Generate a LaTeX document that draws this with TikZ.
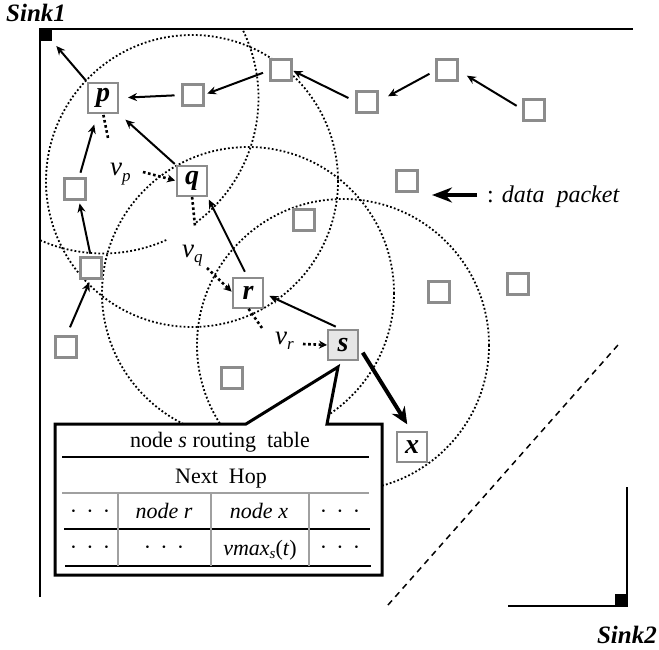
\documentclass[tikz,border=0pt]{standalone}
\usepackage{fontspec}
\setmainfont{Liberation Serif}
\usetikzlibrary{arrows.meta,calc}
\definecolor{boxgray}{HTML}{8C8C8C}
\definecolor{sfill}{HTML}{E6E6E6}
\definecolor{tgray}{HTML}{A0A0A0}
\newcommand\mydots{\textperiodcentered\hspace{0.42em}\textperiodcentered\hspace{0.42em}\textperiodcentered}
\newcommand\vlab[1]{\textit{v}\raisebox{-0.42ex}{\fontsize{17}{17}\selectfont\textit{#1}}}
\begin{document}
\begin{tikzpicture}[x=1pt,y=-1pt,
  pbox/.style={draw=boxgray,line width=2.2pt,fill=white,minimum size=21pt,inner sep=0pt,outer sep=0pt},
  lbox/.style={pbox,minimum size=30pt,font=\fontsize{28}{28}\selectfont\bfseries\itshape},
  arr/.style={line width=2pt,-{Stealth[length=9pt,width=8pt]}},
  bigarr/.style={line width=4pt,-{Stealth[length=17pt,width=15pt]}},
  legarr/.style={line width=4.5pt,-{Stealth[length=20pt,width=15pt]}},
  vdot/.style={line width=2.6pt,dash pattern=on 2.6pt off 2.6pt},
  vdotarr/.style={vdot,-{Stealth[length=8pt,width=8pt]}},
  ring/.style={line width=1.8pt,dash pattern=on 1.8pt off 2.2pt},
  border/.style={line width=2.6pt},
  tline/.style={line width=2.2pt},
  gline/.style={line width=1.2pt,draw=tgray},
  ttext/.style={font=\fontsize{22}{26}\selectfont,anchor=base,inner sep=0pt},
  vtext/.style={font=\fontsize{27}{30}\selectfont,anchor=base west,inner sep=0pt},
  sinklab/.style={font=\fontsize{25}{27}\selectfont\bfseries\itshape,inner sep=0pt},
]
\useasboundingbox (0,0) rectangle (659,650);

% centres of the labelled nodes
\coordinate (Pc) at (103,98);
\coordinate (Qc) at (192,181);
\coordinate (Rc) at (248,293);
\coordinate (Sc) at (343,345);

% transmission ranges
\begin{scope}
  \clip (40,29) rectangle (659,650);
  \draw[ring] (Pc) ++(-30:155.5) arc[start angle=-30,end angle=54,radius=155.5];
  \draw[ring] (Pc) ++(66:155.5) arc[start angle=66,end angle=120,radius=155.5];
  \draw[ring] (Qc) circle[radius=146];
  \draw[ring] (Rc) circle[radius=146];
  \draw[ring] (Sc) circle[radius=146];
\end{scope}

% dashed diagonal
\coordinate (d1) at (388,605);
\coordinate (d2) at (618,345);
\draw[line width=1.5pt,dash pattern=on 6pt off 5pt] (d1) -- (d2);

% field border and sinks
\coordinate (fbl) at (40,597);
\coordinate (ftl) at (40,29);
\coordinate (ftr) at (633,29);
\draw[border] (fbl) -- (ftl) -- (ftr);
\node[fill=black,minimum size=12pt,inner sep=0pt,anchor=north west] (sinkA) at (ftl) {};
\node[sinklab,anchor=base west] (sink1) at (6,22) {Sink1};

\coordinate (s2top) at (627,487);
\coordinate (s2c) at (627,606);
\coordinate (s2left) at (508,606);
\draw[border] (s2top) -- (s2c) -- (s2left);
\node[fill=black,minimum size=12pt,inner sep=0pt,anchor=south east] (sinkB) at (s2c) {};
\node[sinklab,anchor=base east] (sink2) at (657,643) {Sink2};

% routing table callout
\coordinate (tip) at ($(Sc)+(-5,22)$);
\draw[line width=3pt,fill=white,line join=miter] (55,424) -- (246,424) -- (tip) -- (327,424) -- (382,424) -- (382,575) -- (55,575) -- cycle;
\draw[tline] (62,457) -- (369,457);
\draw[gline] (62,493) -- (369,493);
\draw[tline] (64,529) -- (370,529);
\draw[tline] (65,566) -- (371,566);
\draw[gline] (118,493) -- (118,566);
\draw[gline] (211,493) -- (211,566);
\draw[gline] (309,493) -- (309,566);
\node[ttext] (ttitle) at (220,447) {node \textit{s} routing\ \ table};
\node[ttext] (thop) at (221,483) {Next\ \ Hop};
\node[ttext] (c11) at (90,518) {\mydots};
\node[ttext] (c12) at (164,518) {\textit{node r}};
\node[ttext] (c13) at (259,518) {\textit{node x}};
\node[ttext] (c14) at (340,518) {\mydots};
\node[ttext] (c21) at (90,554) {\mydots};
\node[ttext] (c22) at (164,554) {\mydots};
\node[ttext] (c23) at (260,555) {\textit{vmax}\raisebox{-0.35ex}{\fontsize{15}{15}\selectfont\textit{s}}(\textit{t})};
\node[ttext] (c24) at (340,554) {\mydots};

% sensor nodes
\node[pbox] (n1) at (281,70) {};
\node[pbox] (n2) at (193,95) {};
\node[pbox] (n3) at (75,189) {};
\node[pbox] (n4) at (304,220) {};
\node[pbox] (n5) at (447,70) {};
\node[pbox] (n6) at (367,102) {};
\node[pbox] (n7) at (534,110) {};
\node[pbox] (n8) at (407,181) {};
\node[pbox] (n9) at (91,268) {};
\node[pbox] (n10) at (66,347) {};
\node[pbox] (n11) at (232,378) {};
\node[pbox] (n12) at (439,292) {};
\node[pbox] (n13) at (518,284) {};
\node[lbox] (p) at (Pc) {p};
\node[lbox] (q) at (Qc) {q};
\node[lbox] (r) at (Rc) {r};
\node[lbox,fill=sfill] (s) at (Sc) {s};
\node[lbox] (x) at (412,447) {x};

% forwarding arrows
\draw[arr,shorten <=3pt,shorten >=6pt] (p.north west) -- (sinkA.south east);
\draw[arr,shorten <=8pt,shorten >=10pt] (n2.west) -- (p.east);
\draw[arr,shorten <=8pt,shorten >=4pt] (n1.west) -- (n2.east);
\draw[arr,shorten <=9pt,shorten >=2pt] (n6.west) -- (n1.east);
\draw[arr,shorten <=8pt,shorten >=12pt] (n5.west) -- (n6.east);
\draw[arr,shorten <=8pt,shorten >=11pt] (n7.west) -- (n5.east);
\draw[arr,shorten <=6pt,shorten >=12pt] (n3.70) -- (p.-110);
\draw[arr,shorten <=4pt,shorten >=4pt] (n9.north) -- (n3.-70);
\draw[arr,shorten <=10pt,shorten >=4pt] (n10.north) -- (n9.south);
\draw[arr,shorten <=3pt,shorten >=10pt] (q.north west) -- (p.south east);
\draw[arr,shorten <=7pt,shorten >=4pt] (r.north) -- (q.south east);
\draw[arr,shorten <=8pt,shorten >=7pt] (s.north) -- (r.east);
\draw[bigarr,shorten <=9pt,shorten >=9pt] (s.east) -- (x.north);

% velocity labels
\node[vtext] (vp) at (110,176) {\vlab{p}};
\node[vtext] (vq) at (182,257) {\vlab{q}};
\node[vtext] (vr) at (275,344) {\vlab{r}};
\coordinate (vpa) at (108,138);
\coordinate (vpb) at (143,172);
\coordinate (vqa) at (195,226);
\coordinate (vqb) at (207,268);
\coordinate (vra) at (262,328);
\coordinate (vrb) at (303,344);
\draw[vdot,shorten <=2pt] (p.south) -- (vpa);
\draw[vdotarr,shorten >=2pt] (vpb) -- (q.west);
\draw[vdot,shorten <=1pt] (q.south) -- (vqa);
\draw[vdotarr,shorten >=2pt] (vqb) -- (r.west);
\draw[vdot,shorten <=1pt] (r.south) -- (vra);
\draw[vdotarr,shorten >=1pt] (vrb) -- (s.west);

% legend
\coordinate (legtip) at (432,195);
\node[font=\fontsize{24}{28}\selectfont,anchor=base west,inner sep=0pt] (leg) at (487,203) {: \textit{data\ \ packet}};
\draw[legarr,shorten <=10pt] (leg.west |- legtip) -- (legtip);
\end{tikzpicture}
\end{document}
